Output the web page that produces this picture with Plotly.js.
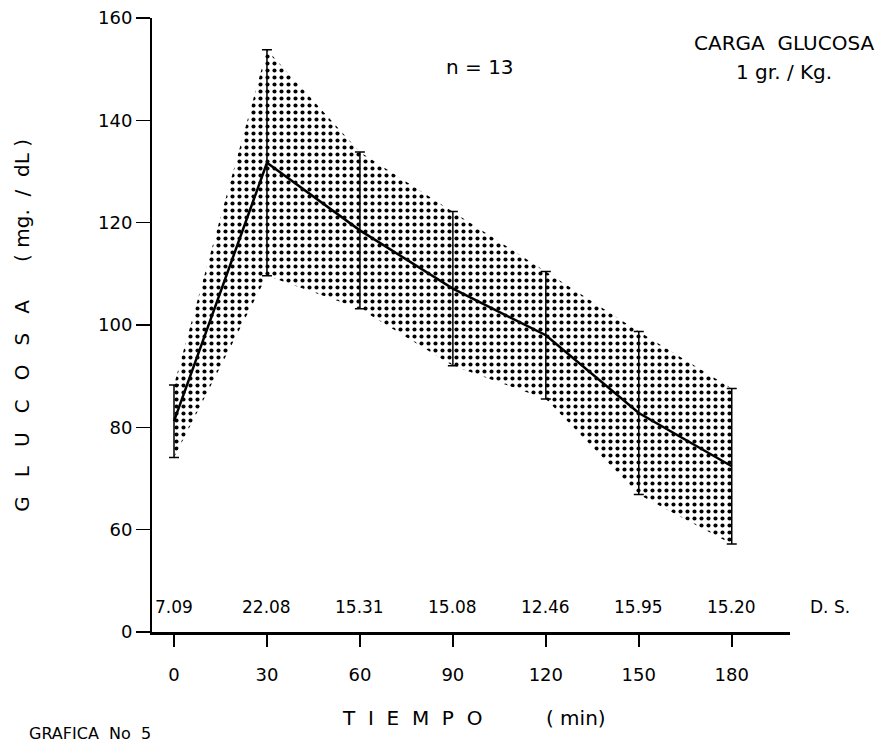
<!DOCTYPE html>
<html>
<head>
<meta charset="utf-8">
<script src="https://cdn.plot.ly/plotly-3.0.1.min.js"></script>
<style>html,body{margin:0;padding:0;background:#fff;}#chart{width:884px;height:746px;}</style>
</head>
<body>
<div id="chart"></div>
<script>
// Data
var tiempo = [0, 30, 60, 90, 120, 150, 180];           // min
var glucosaMedia = [81.2, 131.7, 118.5, 107.1, 98.0, 82.8, 72.4]; // mg/dL
var desviacion = [7.09, 22.08, 15.31, 15.08, 12.46, 15.95, 15.20]; // D.S.
var xTicks = [0, 30, 60, 90, 120, 150, 180];
var yTickVals = [40, 60, 80, 100, 120, 140, 160];   // broken axis: lowest tick shown as 0
var yTickText = ['0', '60', '80', '100', '120', '140', '160'];

var upper = glucosaMedia.map(function (m, i) { return m + desviacion[i]; });
var lower = glucosaMedia.map(function (m, i) { return m - desviacion[i]; });

var FONT = 'DejaVu Sans, Liberation Sans, sans-serif';

var traces = [
  {x: tiempo, y: lower, mode: 'lines', line: {width: 0, color: 'rgba(0,0,0,0)'},
   hoverinfo: 'skip', showlegend: false},
  {x: tiempo, y: upper, mode: 'lines', line: {width: 0, color: 'rgba(0,0,0,0)'},
   fill: 'tonexty', fillcolor: 'white',
   fillpattern: {shape: '.', fgcolor: 'black', bgcolor: 'white', size: 7, solidity: 0.27},
   hoverinfo: 'skip', showlegend: false},
  {x: tiempo, y: glucosaMedia, mode: 'lines', line: {width: 2.5, color: 'black'},
   error_y: {type: 'data', array: desviacion, visible: true, color: 'black', thickness: 1.5, width: 5},
   showlegend: false}
];

var annotations = [];
tiempo.forEach(function (t, i) {
  annotations.push({x: t, xref: 'x', y: 0.04, yref: 'paper', text: desviacion[i].toFixed(2),
    showarrow: false, xanchor: 'center', yanchor: 'middle', font: {family: FONT, size: 17, color: 'black'}});
});
annotations.push({x: 1.063, xref: 'paper', y: 0.04, yref: 'paper', text: 'D. S.', showarrow: false,
  xanchor: 'center', yanchor: 'middle', font: {family: FONT, size: 17, color: 'black'}});
annotations.push({x: 0.514, xref: 'paper', y: 0.920, yref: 'paper', text: 'n = 13', showarrow: false,
  xanchor: 'center', yanchor: 'middle', font: {family: FONT, size: 20, color: 'black'}});
annotations.push({x: 0.991, xref: 'paper', y: 0.959, yref: 'paper', text: 'CARGA  GLUCOSA', showarrow: false,
  xanchor: 'center', yanchor: 'middle', font: {family: FONT, size: 20, color: 'black'}});
annotations.push({x: 0.991, xref: 'paper', y: 0.912, yref: 'paper', text: '1 gr. / Kg.', showarrow: false,
  xanchor: 'center', yanchor: 'middle', font: {family: FONT, size: 20, color: 'black'}});
annotations.push({x: 0.505, xref: 'paper', y: -0.140, yref: 'paper', text: 'T  I  E  M  P  O          ( min)', showarrow: false,
  xanchor: 'center', yanchor: 'middle', font: {family: FONT, size: 20, color: 'black'}});
annotations.push({x: -0.204, xref: 'paper', y: 0.500, yref: 'paper', text: 'G   L   U   C   O   S   A      ( mg.  /  dL )', showarrow: false,
  textangle: -90, xanchor: 'center', yanchor: 'middle', font: {family: FONT, size: 20, color: 'black'}});
annotations.push({x: -0.196, xref: 'paper', y: -0.184, yref: 'paper', text: 'GRAFICA  No  5', showarrow: false,
  xanchor: 'left', yanchor: 'bottom', font: {family: FONT, size: 16, color: 'black'}});

var layout = {
  width: 884, height: 746,
  margin: {l: 152, r: 94, t: 18, b: 114},
  paper_bgcolor: 'white', plot_bgcolor: 'white',
  showlegend: false,
  xaxis: {range: [-7.1, 198.8], showgrid: false, zeroline: false,
    showline: true, linecolor: 'black', linewidth: 3,
    tickmode: 'array', tickvals: xTicks, ticks: 'outside', ticklen: 12, tickwidth: 1.5, tickcolor: 'black',
    ticklabelstandoff: 12,
    tickfont: {family: FONT, size: 18, color: 'black'}},
  yaxis: {range: [40, 160], showgrid: false, zeroline: false,
    showline: true, linecolor: 'black', linewidth: 2,
    tickmode: 'array', tickvals: yTickVals, ticktext: yTickText,
    ticks: 'outside', ticklen: 14, tickwidth: 1.5, tickcolor: 'black',
    tickfont: {family: FONT, size: 18, color: 'black'}},
  annotations: annotations
};

Plotly.newPlot('chart', traces, layout, {staticPlot: true});
</script>
</body>
</html>
